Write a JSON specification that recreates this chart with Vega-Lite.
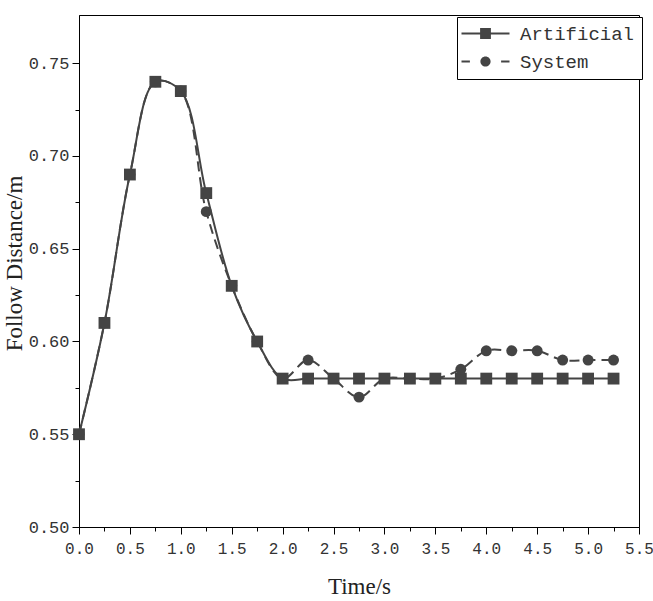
{
  "$schema": "https://vega.github.io/schema/vega-lite/v6.json",
  "width": 560,
  "height": 512,
  "autosize": {"type": "none"},
  "padding": {"left": 79, "top": 15, "right": 14, "bottom": 74},
  "background": "white",
  "config": {
    "view": {"stroke": "black", "strokeWidth": 1},
    "axis": {
      "grid": false,
      "domainColor": "black",
      "tickColor": "black",
      "labelColor": "#333333",
      "labelFont": "Liberation Mono",
      "labelFontSize": 17,
      "titleFont": "Liberation Serif",
      "titleFontWeight": "normal",
      "titleFontSize": 23,
      "titleColor": "#222222",
      "labelOverlap": false
    }
  },
  "data": {
    "values": [
      {"t": 0.0, "v": 0.55, "s": "Artificial"},
      {"t": 0.25, "v": 0.61, "s": "Artificial"},
      {"t": 0.5, "v": 0.69, "s": "Artificial"},
      {"t": 0.75, "v": 0.74, "s": "Artificial"},
      {"t": 1.0, "v": 0.735, "s": "Artificial"},
      {"t": 1.25, "v": 0.68, "s": "Artificial"},
      {"t": 1.5, "v": 0.63, "s": "Artificial"},
      {"t": 1.75, "v": 0.60, "s": "Artificial"},
      {"t": 2.0, "v": 0.58, "s": "Artificial"},
      {"t": 2.25, "v": 0.58, "s": "Artificial"},
      {"t": 2.5, "v": 0.58, "s": "Artificial"},
      {"t": 2.75, "v": 0.58, "s": "Artificial"},
      {"t": 3.0, "v": 0.58, "s": "Artificial"},
      {"t": 3.25, "v": 0.58, "s": "Artificial"},
      {"t": 3.5, "v": 0.58, "s": "Artificial"},
      {"t": 3.75, "v": 0.58, "s": "Artificial"},
      {"t": 4.0, "v": 0.58, "s": "Artificial"},
      {"t": 4.25, "v": 0.58, "s": "Artificial"},
      {"t": 4.5, "v": 0.58, "s": "Artificial"},
      {"t": 4.75, "v": 0.58, "s": "Artificial"},
      {"t": 5.0, "v": 0.58, "s": "Artificial"},
      {"t": 5.25, "v": 0.58, "s": "Artificial"},
      {"t": 0.0, "v": 0.55, "s": "System"},
      {"t": 0.25, "v": 0.61, "s": "System"},
      {"t": 0.5, "v": 0.69, "s": "System"},
      {"t": 0.75, "v": 0.74, "s": "System"},
      {"t": 1.0, "v": 0.735, "s": "System"},
      {"t": 1.25, "v": 0.67, "s": "System"},
      {"t": 1.5, "v": 0.63, "s": "System"},
      {"t": 1.75, "v": 0.60, "s": "System"},
      {"t": 2.0, "v": 0.58, "s": "System"},
      {"t": 2.25, "v": 0.59, "s": "System"},
      {"t": 2.5, "v": 0.58, "s": "System"},
      {"t": 2.75, "v": 0.57, "s": "System"},
      {"t": 3.0, "v": 0.58, "s": "System"},
      {"t": 3.25, "v": 0.58, "s": "System"},
      {"t": 3.5, "v": 0.58, "s": "System"},
      {"t": 3.75, "v": 0.585, "s": "System"},
      {"t": 4.0, "v": 0.595, "s": "System"},
      {"t": 4.25, "v": 0.595, "s": "System"},
      {"t": 4.5, "v": 0.595, "s": "System"},
      {"t": 4.75, "v": 0.59, "s": "System"},
      {"t": 5.0, "v": 0.59, "s": "System"},
      {"t": 5.25, "v": 0.59, "s": "System"}
    ]
  },
  "encoding": {
    "x": {
      "field": "t",
      "type": "quantitative",
      "scale": {"domain": [0, 5.5], "nice": false, "zero": false},
      "axis": {
        "title": "Time/s",
        "values": [0, 0.25, 0.5, 0.75, 1, 1.25, 1.5, 1.75, 2, 2.25, 2.5, 2.75, 3, 3.25, 3.5, 3.75, 4, 4.25, 4.5, 4.75, 5, 5.25, 5.5],
        "labelExpr": "abs(datum.value * 2 - round(datum.value * 2)) < 1e-6 ? format(datum.value, '.1f') : ''",
        "tickSize": {"condition": {"test": "abs(datum.value * 2 - round(datum.value * 2)) < 1e-6", "value": 7}, "value": 4},
        "labelFlush": false,
        "labelFontSize": 16,
        "labelPadding": 6,
        "titlePadding": 19
      }
    },
    "y": {
      "field": "v",
      "type": "quantitative",
      "scale": {"domain": [0.5, 0.776], "nice": false, "zero": false},
      "axis": {
        "title": "Follow Distance/m",
        "values": [0.5, 0.525, 0.55, 0.575, 0.6, 0.625, 0.65, 0.675, 0.7, 0.725, 0.75],
        "labelExpr": "abs(datum.value * 20 - round(datum.value * 20)) < 1e-6 ? format(datum.value, '.2f') : ''",
        "tickSize": {"condition": {"test": "abs(datum.value * 20 - round(datum.value * 20)) < 1e-6", "value": 7}, "value": 4},
        "labelFlush": false,
        "labelPadding": 3,
        "titleX": -58,
        "titleY": 248,
        "titleAngle": -90,
        "titleAlign": "center",
        "titleBaseline": "alphabetic",
        "titleFontSize": 23
      }
    }
  },
  "layer": [
    {
      "transform": [{"filter": "datum.s === 'Artificial'"}],
      "mark": {"type": "line", "interpolate": "catmull-rom", "color": "#444444", "strokeWidth": 2}
    },
    {
      "transform": [{"filter": "datum.s === 'Artificial'"}],
      "mark": {"type": "point", "shape": "square", "filled": true, "size": 140, "color": "#444444", "opacity": 1}
    },
    {
      "transform": [{"filter": "datum.s === 'System'"}],
      "mark": {"type": "line", "interpolate": "catmull-rom", "color": "#444444", "strokeWidth": 2, "strokeDash": [10, 6]}
    },
    {
      "transform": [{"filter": "datum.s === 'System'"}],
      "mark": {"type": "point", "shape": "circle", "filled": true, "size": 120, "color": "#444444", "opacity": 1}
    },
    {
      "mark": {"type": "point", "filled": true, "opacity": 0, "size": 1, "color": "#444444"},
      "encoding": {
        "shape": {
          "field": "s",
          "type": "nominal",
          "scale": {
            "domain": ["Artificial", "System"],
            "range": [
              "M-4,-0.17H4V0.17H-4Z M-0.9,-0.9H0.9V0.9H-0.9Z",
              "M-4,-0.17H-2.6V0.17H-4Z M2.6,-0.17H4V0.17H2.6Z M0.85,0A0.85,0.85 0 1,1 -0.85,0A0.85,0.85 0 1,1 0.85,0Z"
            ]
          },
          "legend": {
            "title": null,
            "orient": "none",
            "legendX": 378,
            "legendY": 2,
            "padding": 7,
            "strokeColor": "black",
            "fillColor": "white",
            "symbolSize": 144,
            "symbolOffset": 12,
            "symbolStrokeWidth": 0,
            "symbolFillColor": "#444444",
            "symbolOpacity": 1,
            "labelOffset": 25,
            "labelFont": "Liberation Mono",
            "labelFontSize": 19,
            "labelColor": "#333333",
            "rowPadding": 8
          }
        }
      }
    }
  ]
}
